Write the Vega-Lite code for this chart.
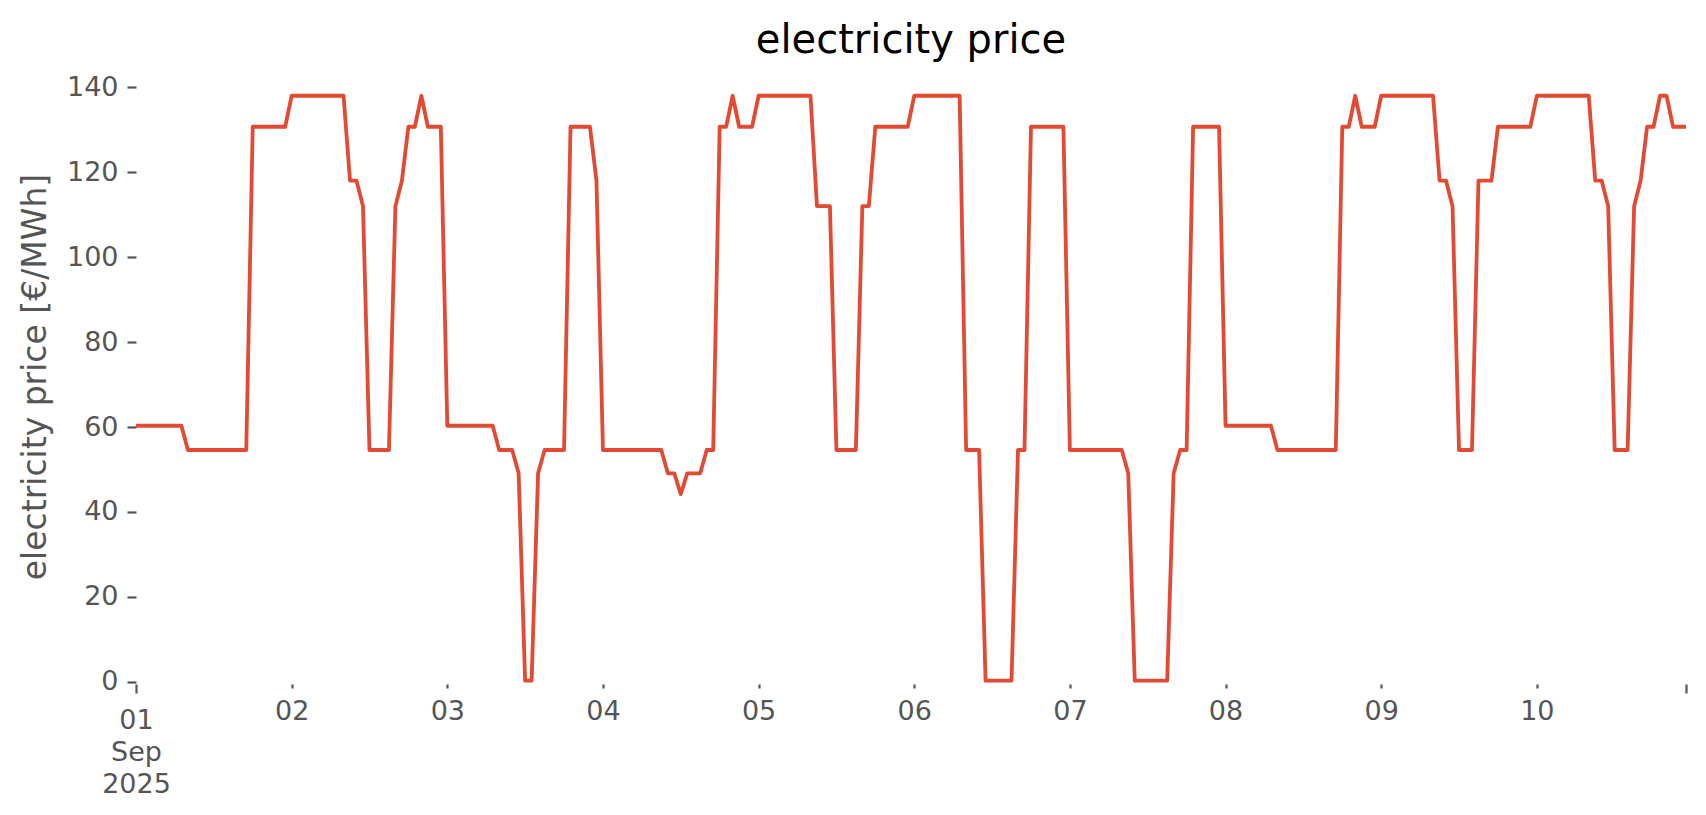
{
  "$schema": "https://vega.github.io/schema/vega-lite/v6.json",
  "width": 1550,
  "height": 615,
  "autosize": {"type": "none"},
  "padding": {"left": 136, "top": 69, "right": 20, "bottom": 131},
  "background": "white",
  "config": {
    "font": "DejaVu Sans",
    "view": {"stroke": null},
    "axis": {"domain": false, "grid": false}
  },
  "title": {
    "text": "electricity price",
    "fontSize": 40,
    "font": "DejaVu Sans",
    "fontWeight": "normal",
    "color": "#000000",
    "anchor": "middle",
    "frame": "group",
    "baseline": "alphabetic",
    "offset": -24
  },
  "data": {
    "values": [
      {"t":"2025-09-01T00:00","p":60.3},{"t":"2025-09-01T01:00","p":60.3},{"t":"2025-09-01T02:00","p":60.3},{"t":"2025-09-01T03:00","p":60.3},{"t":"2025-09-01T04:00","p":60.3},{"t":"2025-09-01T05:00","p":60.3},{"t":"2025-09-01T06:00","p":60.3},{"t":"2025-09-01T07:00","p":60.3},{"t":"2025-09-01T08:00","p":54.6},{"t":"2025-09-01T09:00","p":54.6},{"t":"2025-09-01T10:00","p":54.6},{"t":"2025-09-01T11:00","p":54.6},{"t":"2025-09-01T12:00","p":54.6},{"t":"2025-09-01T13:00","p":54.6},{"t":"2025-09-01T14:00","p":54.6},{"t":"2025-09-01T15:00","p":54.6},{"t":"2025-09-01T16:00","p":54.6},{"t":"2025-09-01T17:00","p":54.6},{"t":"2025-09-01T18:00","p":130.7},{"t":"2025-09-01T19:00","p":130.7},{"t":"2025-09-01T20:00","p":130.7},{"t":"2025-09-01T21:00","p":130.7},{"t":"2025-09-01T22:00","p":130.7},{"t":"2025-09-01T23:00","p":130.7},
      {"t":"2025-09-02T00:00","p":138},{"t":"2025-09-02T01:00","p":138},{"t":"2025-09-02T02:00","p":138},{"t":"2025-09-02T03:00","p":138},{"t":"2025-09-02T04:00","p":138},{"t":"2025-09-02T05:00","p":138},{"t":"2025-09-02T06:00","p":138},{"t":"2025-09-02T07:00","p":138},{"t":"2025-09-02T08:00","p":138},{"t":"2025-09-02T09:00","p":118},{"t":"2025-09-02T10:00","p":118},{"t":"2025-09-02T11:00","p":112},{"t":"2025-09-02T12:00","p":54.6},{"t":"2025-09-02T13:00","p":54.6},{"t":"2025-09-02T14:00","p":54.6},{"t":"2025-09-02T15:00","p":54.6},{"t":"2025-09-02T16:00","p":112},{"t":"2025-09-02T17:00","p":118},{"t":"2025-09-02T18:00","p":130.7},{"t":"2025-09-02T19:00","p":130.7},{"t":"2025-09-02T20:00","p":138},{"t":"2025-09-02T21:00","p":130.7},{"t":"2025-09-02T22:00","p":130.7},{"t":"2025-09-02T23:00","p":130.7},
      {"t":"2025-09-03T00:00","p":60.3},{"t":"2025-09-03T01:00","p":60.3},{"t":"2025-09-03T02:00","p":60.3},{"t":"2025-09-03T03:00","p":60.3},{"t":"2025-09-03T04:00","p":60.3},{"t":"2025-09-03T05:00","p":60.3},{"t":"2025-09-03T06:00","p":60.3},{"t":"2025-09-03T07:00","p":60.3},{"t":"2025-09-03T08:00","p":54.6},{"t":"2025-09-03T09:00","p":54.6},{"t":"2025-09-03T10:00","p":54.6},{"t":"2025-09-03T11:00","p":49.1},{"t":"2025-09-03T12:00","p":0.3},{"t":"2025-09-03T13:00","p":0.3},{"t":"2025-09-03T14:00","p":49.1},{"t":"2025-09-03T15:00","p":54.6},{"t":"2025-09-03T16:00","p":54.6},{"t":"2025-09-03T17:00","p":54.6},{"t":"2025-09-03T18:00","p":54.6},{"t":"2025-09-03T19:00","p":130.7},{"t":"2025-09-03T20:00","p":130.7},{"t":"2025-09-03T21:00","p":130.7},{"t":"2025-09-03T22:00","p":130.7},{"t":"2025-09-03T23:00","p":118},
      {"t":"2025-09-04T00:00","p":54.6},{"t":"2025-09-04T01:00","p":54.6},{"t":"2025-09-04T02:00","p":54.6},{"t":"2025-09-04T03:00","p":54.6},{"t":"2025-09-04T04:00","p":54.6},{"t":"2025-09-04T05:00","p":54.6},{"t":"2025-09-04T06:00","p":54.6},{"t":"2025-09-04T07:00","p":54.6},{"t":"2025-09-04T08:00","p":54.6},{"t":"2025-09-04T09:00","p":54.6},{"t":"2025-09-04T10:00","p":49.1},{"t":"2025-09-04T11:00","p":49.1},{"t":"2025-09-04T12:00","p":44.2},{"t":"2025-09-04T13:00","p":49.1},{"t":"2025-09-04T14:00","p":49.1},{"t":"2025-09-04T15:00","p":49.1},{"t":"2025-09-04T16:00","p":54.6},{"t":"2025-09-04T17:00","p":54.6},{"t":"2025-09-04T18:00","p":130.7},{"t":"2025-09-04T19:00","p":130.7},{"t":"2025-09-04T20:00","p":138},{"t":"2025-09-04T21:00","p":130.7},{"t":"2025-09-04T22:00","p":130.7},{"t":"2025-09-04T23:00","p":130.7},
      {"t":"2025-09-05T00:00","p":138},{"t":"2025-09-05T01:00","p":138},{"t":"2025-09-05T02:00","p":138},{"t":"2025-09-05T03:00","p":138},{"t":"2025-09-05T04:00","p":138},{"t":"2025-09-05T05:00","p":138},{"t":"2025-09-05T06:00","p":138},{"t":"2025-09-05T07:00","p":138},{"t":"2025-09-05T08:00","p":138},{"t":"2025-09-05T09:00","p":112},{"t":"2025-09-05T10:00","p":112},{"t":"2025-09-05T11:00","p":112},{"t":"2025-09-05T12:00","p":54.6},{"t":"2025-09-05T13:00","p":54.6},{"t":"2025-09-05T14:00","p":54.6},{"t":"2025-09-05T15:00","p":54.6},{"t":"2025-09-05T16:00","p":112},{"t":"2025-09-05T17:00","p":112},{"t":"2025-09-05T18:00","p":130.7},{"t":"2025-09-05T19:00","p":130.7},{"t":"2025-09-05T20:00","p":130.7},{"t":"2025-09-05T21:00","p":130.7},{"t":"2025-09-05T22:00","p":130.7},{"t":"2025-09-05T23:00","p":130.7},
      {"t":"2025-09-06T00:00","p":138},{"t":"2025-09-06T01:00","p":138},{"t":"2025-09-06T02:00","p":138},{"t":"2025-09-06T03:00","p":138},{"t":"2025-09-06T04:00","p":138},{"t":"2025-09-06T05:00","p":138},{"t":"2025-09-06T06:00","p":138},{"t":"2025-09-06T07:00","p":138},{"t":"2025-09-06T08:00","p":54.6},{"t":"2025-09-06T09:00","p":54.6},{"t":"2025-09-06T10:00","p":54.6},{"t":"2025-09-06T11:00","p":0.3},{"t":"2025-09-06T12:00","p":0.3},{"t":"2025-09-06T13:00","p":0.3},{"t":"2025-09-06T14:00","p":0.3},{"t":"2025-09-06T15:00","p":0.3},{"t":"2025-09-06T16:00","p":54.6},{"t":"2025-09-06T17:00","p":54.6},{"t":"2025-09-06T18:00","p":130.7},{"t":"2025-09-06T19:00","p":130.7},{"t":"2025-09-06T20:00","p":130.7},{"t":"2025-09-06T21:00","p":130.7},{"t":"2025-09-06T22:00","p":130.7},{"t":"2025-09-06T23:00","p":130.7},
      {"t":"2025-09-07T00:00","p":54.6},{"t":"2025-09-07T01:00","p":54.6},{"t":"2025-09-07T02:00","p":54.6},{"t":"2025-09-07T03:00","p":54.6},{"t":"2025-09-07T04:00","p":54.6},{"t":"2025-09-07T05:00","p":54.6},{"t":"2025-09-07T06:00","p":54.6},{"t":"2025-09-07T07:00","p":54.6},{"t":"2025-09-07T08:00","p":54.6},{"t":"2025-09-07T09:00","p":49.1},{"t":"2025-09-07T10:00","p":0.3},{"t":"2025-09-07T11:00","p":0.3},{"t":"2025-09-07T12:00","p":0.3},{"t":"2025-09-07T13:00","p":0.3},{"t":"2025-09-07T14:00","p":0.3},{"t":"2025-09-07T15:00","p":0.3},{"t":"2025-09-07T16:00","p":49.1},{"t":"2025-09-07T17:00","p":54.6},{"t":"2025-09-07T18:00","p":54.6},{"t":"2025-09-07T19:00","p":130.7},{"t":"2025-09-07T20:00","p":130.7},{"t":"2025-09-07T21:00","p":130.7},{"t":"2025-09-07T22:00","p":130.7},{"t":"2025-09-07T23:00","p":130.7},
      {"t":"2025-09-08T00:00","p":60.3},{"t":"2025-09-08T01:00","p":60.3},{"t":"2025-09-08T02:00","p":60.3},{"t":"2025-09-08T03:00","p":60.3},{"t":"2025-09-08T04:00","p":60.3},{"t":"2025-09-08T05:00","p":60.3},{"t":"2025-09-08T06:00","p":60.3},{"t":"2025-09-08T07:00","p":60.3},{"t":"2025-09-08T08:00","p":54.6},{"t":"2025-09-08T09:00","p":54.6},{"t":"2025-09-08T10:00","p":54.6},{"t":"2025-09-08T11:00","p":54.6},{"t":"2025-09-08T12:00","p":54.6},{"t":"2025-09-08T13:00","p":54.6},{"t":"2025-09-08T14:00","p":54.6},{"t":"2025-09-08T15:00","p":54.6},{"t":"2025-09-08T16:00","p":54.6},{"t":"2025-09-08T17:00","p":54.6},{"t":"2025-09-08T18:00","p":130.7},{"t":"2025-09-08T19:00","p":130.7},{"t":"2025-09-08T20:00","p":138},{"t":"2025-09-08T21:00","p":130.7},{"t":"2025-09-08T22:00","p":130.7},{"t":"2025-09-08T23:00","p":130.7},
      {"t":"2025-09-09T00:00","p":138},{"t":"2025-09-09T01:00","p":138},{"t":"2025-09-09T02:00","p":138},{"t":"2025-09-09T03:00","p":138},{"t":"2025-09-09T04:00","p":138},{"t":"2025-09-09T05:00","p":138},{"t":"2025-09-09T06:00","p":138},{"t":"2025-09-09T07:00","p":138},{"t":"2025-09-09T08:00","p":138},{"t":"2025-09-09T09:00","p":118},{"t":"2025-09-09T10:00","p":118},{"t":"2025-09-09T11:00","p":112},{"t":"2025-09-09T12:00","p":54.6},{"t":"2025-09-09T13:00","p":54.6},{"t":"2025-09-09T14:00","p":54.6},{"t":"2025-09-09T15:00","p":118},{"t":"2025-09-09T16:00","p":118},{"t":"2025-09-09T17:00","p":118},{"t":"2025-09-09T18:00","p":130.7},{"t":"2025-09-09T19:00","p":130.7},{"t":"2025-09-09T20:00","p":130.7},{"t":"2025-09-09T21:00","p":130.7},{"t":"2025-09-09T22:00","p":130.7},{"t":"2025-09-09T23:00","p":130.7},
      {"t":"2025-09-10T00:00","p":138},{"t":"2025-09-10T01:00","p":138},{"t":"2025-09-10T02:00","p":138},{"t":"2025-09-10T03:00","p":138},{"t":"2025-09-10T04:00","p":138},{"t":"2025-09-10T05:00","p":138},{"t":"2025-09-10T06:00","p":138},{"t":"2025-09-10T07:00","p":138},{"t":"2025-09-10T08:00","p":138},{"t":"2025-09-10T09:00","p":118},{"t":"2025-09-10T10:00","p":118},{"t":"2025-09-10T11:00","p":112},{"t":"2025-09-10T12:00","p":54.6},{"t":"2025-09-10T13:00","p":54.6},{"t":"2025-09-10T14:00","p":54.6},{"t":"2025-09-10T15:00","p":112},{"t":"2025-09-10T16:00","p":118},{"t":"2025-09-10T17:00","p":130.7},{"t":"2025-09-10T18:00","p":130.7},{"t":"2025-09-10T19:00","p":138},{"t":"2025-09-10T20:00","p":138},{"t":"2025-09-10T21:00","p":130.7},{"t":"2025-09-10T22:00","p":130.7},{"t":"2025-09-10T23:00","p":130.7}
    ]
  },
  "mark": {"type": "line", "color": "#E24A33", "strokeWidth": 3.8, "strokeJoin": "round", "strokeCap": "butt"},
  "encoding": {
    "x": {
      "field": "t",
      "type": "temporal",
      "scale": {"nice": false, "padding": 0},
      "axis": {
        "title": null,
        "values": [
          {"year": 2025, "month": 9, "date": 1},
          {"year": 2025, "month": 9, "date": 2},
          {"year": 2025, "month": 9, "date": 3},
          {"year": 2025, "month": 9, "date": 4},
          {"year": 2025, "month": 9, "date": 5},
          {"year": 2025, "month": 9, "date": 6},
          {"year": 2025, "month": 9, "date": 7},
          {"year": 2025, "month": 9, "date": 8},
          {"year": 2025, "month": 9, "date": 9},
          {"year": 2025, "month": 9, "date": 10},
          {"year": 2025, "month": 9, "date": 10, "hours": 23}
        ],
        "labelExpr": "hours(datum.value) == 23 ? '' : (date(datum.value) == 1 ? ['01', 'Sep', '2025'] : timeFormat(datum.value, '%d'))",
        "labelFontSize": 27,
        "labelColor": "#555555",
        "labelFont": "DejaVu Sans",
        "labelLineHeight": 32,
        "labelAlign": "center",
        "labelBaseline": "top",
        "labelOverlap": false,
        "labelFlush": false,
        "labelBound": false,
        "labelPadding": {"condition": {"test": "date(datum.value) == 1", "value": 14}, "value": 10},
        "tickSize": {"condition": {"test": "date(datum.value) == 1 || hours(datum.value) == 23", "value": 9}, "value": 4},
        "tickWidth": 2.2,
        "tickColor": "#555555"
      }
    },
    "y": {
      "field": "p",
      "type": "quantitative",
      "scale": {"domain": [-0.5, 144.3], "nice": false, "zero": false},
      "axis": {
        "title": "electricity price [€/MWh]",
        "titleFontSize": 33,
        "titleFont": "DejaVu Sans",
        "titleFontWeight": "normal",
        "titleColor": "#555555",
        "titlePadding": 14,
        "values": [0, 20, 40, 60, 80, 100, 120, 140],
        "labelFontSize": 27,
        "labelColor": "#555555",
        "labelFont": "DejaVu Sans",
        "labelPadding": 9,
        "tickSize": 9,
        "tickWidth": 2.2,
        "tickColor": "#555555"
      }
    }
  }
}
